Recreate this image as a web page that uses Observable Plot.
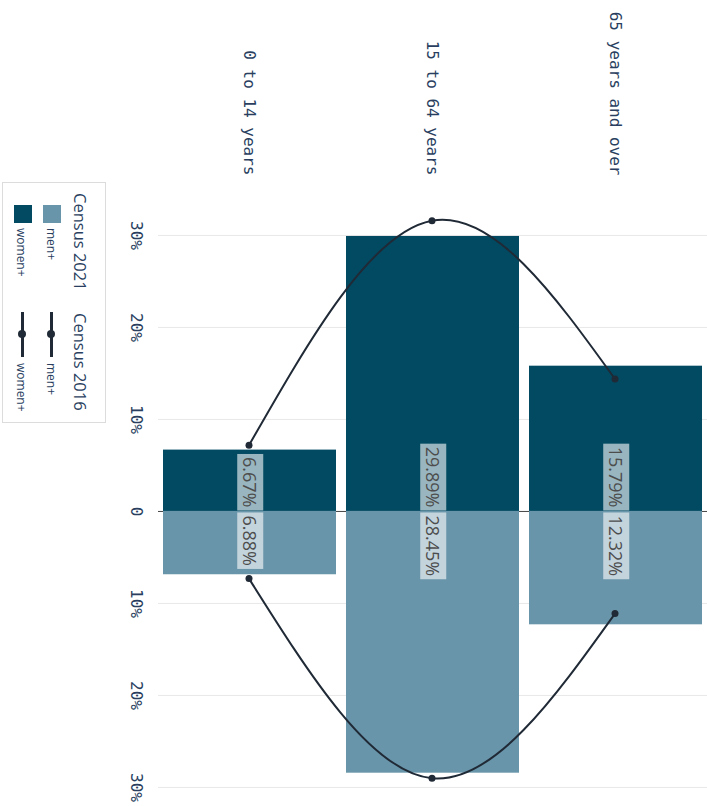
<!DOCTYPE html>
<html>
<head>
<meta charset="utf-8">
<script src="https://cdn.jsdelivr.net/npm/d3@7"></script>
<script src="https://cdn.jsdelivr.net/npm/@observablehq/plot@0.6"></script>
<style>
  html, body { margin: 0; padding: 0; background: #fff; overflow: hidden; width: 707px; height: 806px; }
  #rot { position: absolute; left: 0; top: 0; width: 806px; height: 707px; background: #fff;
         transform-origin: 0 0; transform: translate(707px, 0) rotate(90deg); }
  #legend { position: absolute; left: 182px; top: 601px; width: 241px; height: 104px;
            border: 1px solid #dcdcdc; background: #fff; box-sizing: border-box;
            font-family: "Open Sans", sans-serif; color: #2a3f5f; }
  #legend .t { position: absolute; font-size: 16.5px; line-height: 1; white-space: nowrap; }
  #legend .l { position: absolute; font-size: 12px; line-height: 1; white-space: nowrap; }
  #legend .sq { position: absolute; width: 18px; height: 18px; }
  #legend .ln { position: absolute; width: 45px; height: 3px; background: #202a36; }
  #legend .dt { position: absolute; width: 8px; height: 8px; border-radius: 50%; background: #202a36; }
</style>
</head>
<body>
<div id="rot">
  <div id="chart"></div>
  <div id="legend"></div>
</div>
<script>
// ---- data ----
const ages = ["0 to 14 years", "15 to 64 years", "65 years and over"];
const women2021 = [6.67, 29.89, 15.79];
const men2021 = [6.88, 28.45, 12.32];
const women2016 = [7.2, 31.6, 14.4];
const men2016 = [7.3, 29.0, 11.1];
const xTicks = [-30, -20, -10, 0, 10, 20, 30];
const seriesNames = ["Census 2021", "Census 2016"];
const sexNames = ["men+", "women+"];

const darkColor = "#024a62";
const lightColor = "#6995aa";
const lineColor = "#202a36";

const rows = (vals) => vals.map((v, i) => ({age: ages[i], v}));
const tickFormat = d => d === 0 ? "0" : Math.abs(d) + "%";
const pct = d => d.v.toFixed(2) + "%";

const chart = Plot.plot({
  width: 806,
  height: 600,
  marginLeft: 185,
  marginRight: 0,
  marginTop: 0,
  marginBottom: 51,
  style: {fontFamily: "DejaVu Sans Mono", fontSize: "16px", color: "#2a3f5f", background: "white", overflow: "visible"},
  x: {domain: [-35.43, 32.07]},
  y: {domain: ages.slice().reverse(), paddingInner: 0.055, paddingOuter: 0.0275},
  marks: [
    Plot.gridX(xTicks.filter(d => d !== 0), {stroke: "#e8e8e8", strokeOpacity: 1}),
    Plot.ruleX([0], {stroke: "#444", strokeWidth: 1}),
    Plot.barX(rows(women2021), {x1: 0, x2: d => -d.v, y: "age", fill: darkColor}),
    Plot.barX(rows(men2021), {x1: 0, x2: d => d.v, y: "age", fill: lightColor}),
    Plot.line(rows(women2016), {x: d => -d.v, y: "age", curve: "natural", stroke: lineColor, strokeWidth: 2}),
    Plot.line(rows(men2016), {x: d => d.v, y: "age", curve: "natural", stroke: lineColor, strokeWidth: 2}),
    Plot.dot(rows(women2016), {x: d => -d.v, y: "age", r: 3.5, fill: lineColor}),
    Plot.dot(rows(men2016), {x: d => d.v, y: "age", r: 3.5, fill: lineColor}),
    Plot.text(rows(women2021), {x: 0, y: "age", text: pct, dx: -4, textAnchor: "end", fontFamily: "Open Sans", fontSize: 18, fill: "#4d4d4d"}),
    Plot.text(rows(men2021), {x: 0, y: "age", text: pct, dx: 4, textAnchor: "start", fontFamily: "Open Sans", fontSize: 18, fill: "#4d4d4d"}),
    Plot.axisX(xTicks, {tickSize: 0, tickPadding: 15, tickFormat, label: null}),
    Plot.axisY({tickSize: 0, tickPadding: 10, label: null})
  ]
});
document.getElementById("chart").appendChild(chart);

// label background boxes
const svgNS = "http://www.w3.org/2000/svg";
chart.querySelectorAll("text").forEach(t => {
  if (!/^\d+\.\d\d%$/.test(t.textContent.trim())) return;
  const b = t.getBBox();
  const cy = b.y + b.height / 2;
  const x0 = b.x - 3, x1 = b.x + b.width + 3;
  const r = document.createElementNS(svgNS, "rect");
  r.setAttribute("x", x0);
  r.setAttribute("width", x1 - x0);
  r.setAttribute("y", cy - 13);
  r.setAttribute("height", 26);
  r.setAttribute("fill", "white");
  r.setAttribute("fill-opacity", 0.6);
  const tr = t.getAttribute("transform");
  if (tr) r.setAttribute("transform", tr);
  t.parentNode.insertBefore(r, t);
});

// legend
const lg = document.getElementById("legend");
lg.innerHTML = `
  <div class="t" style="left:10px; top:17px;">${seriesNames[0]}</div>
  <div class="t" style="left:130px; top:17px;">${seriesNames[1]}</div>
  <div class="sq" style="left:22px; top:44px; background:${lightColor};"></div>
  <div class="l" style="left:45px; top:48px;">${sexNames[0]}</div>
  <div class="sq" style="left:22px; top:73px; background:${darkColor};"></div>
  <div class="l" style="left:45px; top:78px;">${sexNames[1]}</div>
  <div class="ln" style="left:129px; top:52px;"></div>
  <div class="dt" style="left:147px; top:49.5px;"></div>
  <div class="l" style="left:180px; top:48px;">${sexNames[0]}</div>
  <div class="ln" style="left:129px; top:81px;"></div>
  <div class="dt" style="left:147px; top:78.5px;"></div>
  <div class="l" style="left:180px; top:78px;">${sexNames[1]}</div>
`;
</script>
</body>
</html>
